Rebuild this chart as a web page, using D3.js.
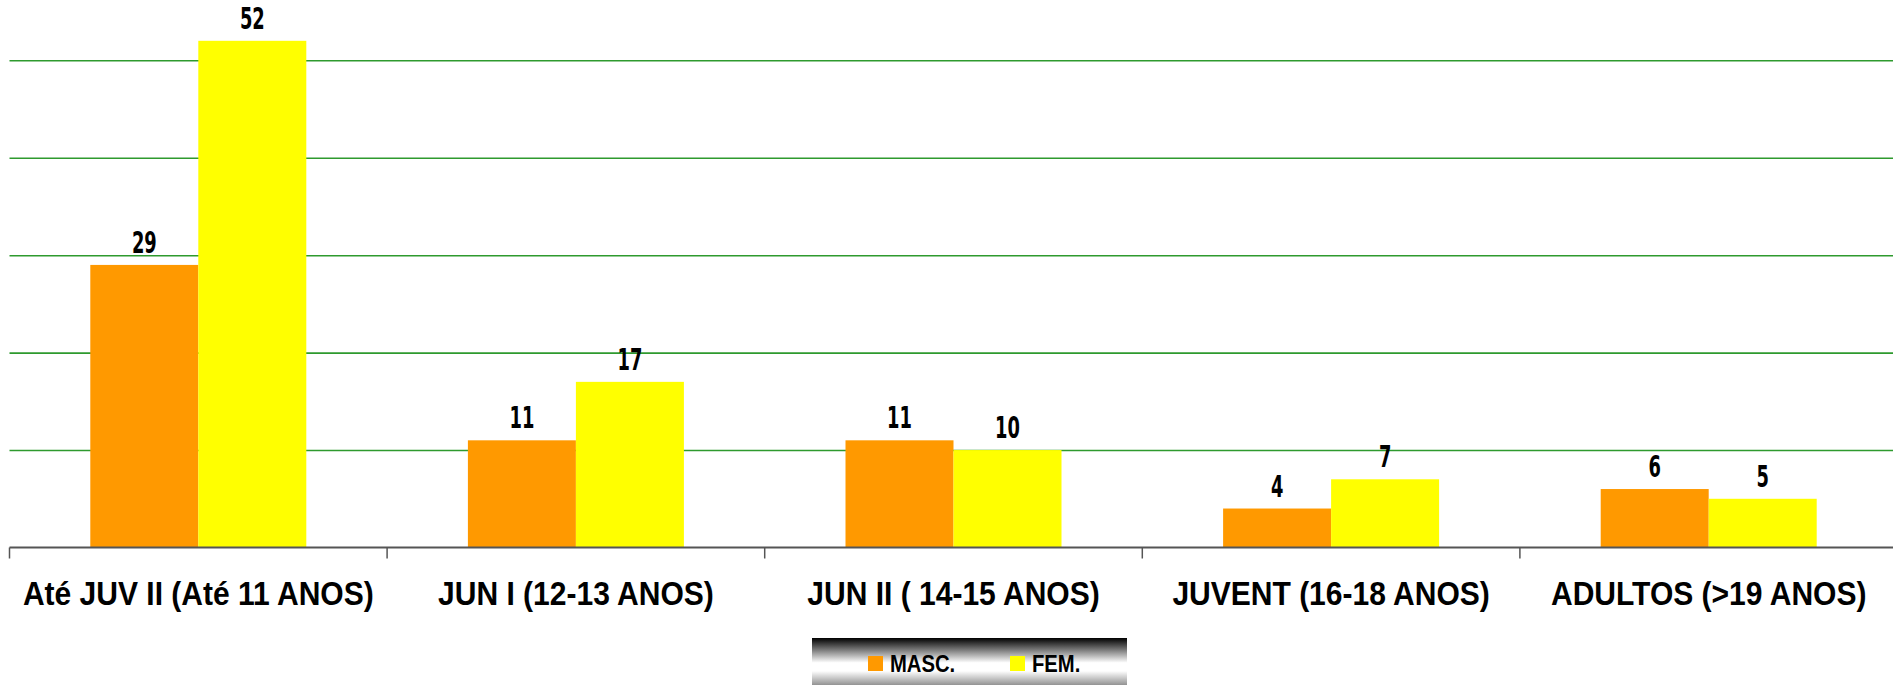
<!DOCTYPE html>
<html>
<head>
<meta charset="utf-8">
<script src="https://cdn.jsdelivr.net/npm/d3@7"></script>
<style>
  html, body { margin: 0; padding: 0; background: #fff; overflow: hidden; }
</style>
</head>
<body>
<script>
const categories = [
    "Até JUV II (Até 11 ANOS)",
    "JUN I (12-13 ANOS)",
    "JUN II ( 14-15 ANOS)",
    "JUVENT (16-18 ANOS)",
    "ADULTOS (>19 ANOS)"
];
const series = ["MASC.", "FEM."];
const masc = [29, 11, 11, 4, 6];
const fem = [52, 17, 10, 7, 5];
const gridTicks = [10, 20, 30, 40, 50];

const W = 1893, H = 685;
const left = 9.5, bandW = 377.6, base = 547.5;

const color = d3.scaleOrdinal().domain(series).range(["#ff9900", "#ffff00"]);

const x0 = d3.scaleBand().domain(categories)
    .range([left, left + bandW * categories.length]);
const x1 = d3.scaleBand().domain(series).range([80.8, 80.8 + 216]);
const y = d3.scaleLinear().domain([0, 50]).range([base, 60.3]);

const data = categories.map((c, i) => ({
    cat: c,
    values: [{ s: "MASC.", v: masc[i] }, { s: "FEM.", v: fem[i] }]
}));

const svg = d3.select("body").append("svg")
    .attr("width", W).attr("height", H);

// gridlines
svg.append("g")
    .attr("transform", "translate(" + left + ",0)")
    .call(d3.axisLeft(y).tickValues(gridTicks).tickSize(-(W - left)).tickFormat(""))
    .call(g => g.select(".domain").remove())
    .call(g => g.selectAll("line").attr("stroke", "#2e9a2e").attr("stroke-width", 1.6));

// bars
const slice = svg.selectAll(".slice")
    .data(data)
    .enter().append("g")
    .attr("transform", d => "translate(" + x0(d.cat) + ",0)");

slice.selectAll("rect")
    .data(d => d.values)
    .enter().append("rect")
    .attr("x", d => x1(d.s))
    .attr("width", x1.bandwidth())
    .attr("y", d => y(d.v))
    .attr("height", d => base - y(d.v))
    .attr("fill", d => color(d.s));

// value labels (condensed look via horizontal squeeze)
slice.selectAll("text")
    .data(d => d.values)
    .enter().append("text")
    .attr("transform", d => "translate(" + (x1(d.s) + x1.bandwidth() / 2) + "," + (y(d.v) - 12) + ") scale(0.64,1)")
    .attr("text-anchor", "middle")
    .attr("font-family", "'DejaVu Sans Condensed', sans-serif")
    .attr("font-weight", "bold")
    .attr("font-size", 31)
    .attr("fill", "#000")
    .text(d => d.v);

// x axis
const xAxis = svg.append("g")
    .attr("transform", "translate(0," + base + ")")
    .call(d3.axisBottom(x0).tickSize(0).tickFormat(""));
xAxis.select(".domain").remove();
xAxis.append("line")
    .attr("x1", left).attr("x2", W)
    .attr("stroke", "#555").attr("stroke-width", 2);
xAxis.selectAll(".bound")
    .data(categories)
    .enter().append("line")
    .attr("x1", d => x0(d)).attr("x2", d => x0(d))
    .attr("y1", 0).attr("y2", 11)
    .attr("stroke", "#555").attr("stroke-width", 1.5);
xAxis.selectAll(".cat")
    .data(categories)
    .enter().append("text")
    .attr("transform", d => "translate(" + (x0(d) + bandW / 2) + ",57) scale(0.91,1)")
    .attr("text-anchor", "middle")
    .attr("font-family", "'Liberation Sans', Arial, sans-serif")
    .attr("font-weight", "bold")
    .attr("font-size", 33)
    .attr("fill", "#000")
    .text(d => d);

// legend
const defs = svg.append("defs");
const grad = defs.append("linearGradient")
    .attr("id", "lg").attr("x1", 0).attr("x2", 0).attr("y1", 0).attr("y2", 1);
[[0, "#000"], [0.45, "#fff"], [0.6, "#fff"], [1, "#555"]].forEach(s =>
    grad.append("stop").attr("offset", s[0]).attr("stop-color", s[1]));

const legend = svg.append("g").attr("transform", "translate(812,638)");
legend.append("rect")
    .attr("width", 315).attr("height", 55)
    .attr("fill", "url(#lg)");
const legX = d3.scaleOrdinal().domain(series).range([56, 198]);
const item = legend.selectAll(".item")
    .data(series)
    .enter().append("g")
    .attr("transform", d => "translate(" + legX(d) + ",18)");
item.append("rect")
    .attr("width", 15).attr("height", 15)
    .attr("fill", d => color(d));
item.append("text")
    .attr("transform", "translate(22,15.5) scale(0.88,1)")
    .attr("font-family", "'Liberation Sans', sans-serif")
    .attr("font-weight", "bold")
    .attr("font-size", 23)
    .attr("fill", "#000")
    .text(d => d);
</script>
</body>
</html>
